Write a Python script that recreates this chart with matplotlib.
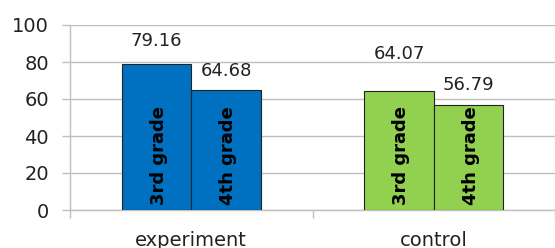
import matplotlib.pyplot as plt
import numpy as np

groups = ["experiment", "control"]
series = ["3rd grade", "4th grade"]
values = {
    "3rd grade": [79.16, 64.07],
    "4th grade": [64.68, 56.79],
}
colors = {"experiment": "#0070C0", "control": "#92D050"}
# label offsets above bar top, in points (manual placement as in the original)
label_offsets = {
    "3rd grade": [16, 27],
    "4th grade": [14, 14],
}

fig = plt.figure(figsize=(5.55, 2.48), dpi=100)
ax = fig.add_axes([70 / 555, 38 / 248, 1 - 70 / 555, 185 / 248])

width = 0.287
x = np.arange(len(groups))
for j, s in enumerate(series):
    pos = x + (j - 0.5) * width
    bars = ax.bar(pos, values[s], width=width,
                  color=[colors[g] for g in groups],
                  edgecolor="#222222", linewidth=0.8, zorder=3)
    for k, b in enumerate(bars):
        ax.annotate(f"{values[s][k]:.2f}",
                    (b.get_x() + b.get_width() / 2, b.get_height()),
                    xytext=(0, label_offsets[s][k]), textcoords="offset points",
                    ha="center", va="center", fontsize=13, color="#222222")
        ax.text(b.get_x() + b.get_width() / 2 + 0.01, 2.5, s, rotation=90,
                ha="center", va="bottom", fontsize=13, fontweight="bold",
                color="black", zorder=4)

ax.set_ylim(0, 100)
ax.set_xlim(-0.5, 1.5 - 3 / 244)
ax.set_yticks(range(0, 101, 20))
ax.grid(axis="y", color="#BFBFBF", linewidth=1, zorder=0)

ax.set_xticks(x)
ax.set_xticklabels(groups, fontsize=14, color="#222222")
ax.set_xticks([-0.5, 0.5, 1.5], minor=True)
ax.tick_params(axis="x", which="major", length=0, pad=15)
ax.tick_params(axis="x", which="minor", length=6, color="#BFBFBF", width=1)
ax.tick_params(axis="y", length=6, color="#BFBFBF", width=1,
               labelsize=14, labelcolor="#222222", pad=9)

for side in ["top", "right"]:
    ax.spines[side].set_visible(False)
for side in ["left", "bottom"]:
    ax.spines[side].set_color("#BFBFBF")
    ax.spines[side].set_linewidth(1)

plt.savefig("out.png", dpi=100)
